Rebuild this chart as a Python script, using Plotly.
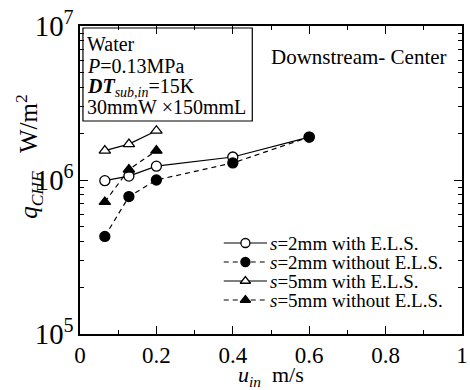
import plotly.graph_objects as go

# Inlet velocity (m/s)
u_in = [0.065, 0.128, 0.2, 0.4, 0.6]
u_in_s5 = [0.065, 0.128, 0.2]

# Critical heat flux (W/m^2)
q_s2_els = [0.99e6, 1.06e6, 1.23e6, 1.41e6, 1.90e6]
q_s2_noels = [0.43e6, 0.78e6, 1.00e6, 1.29e6, 1.90e6]
q_s5_els = [1.55e6, 1.71e6, 2.09e6]
q_s5_noels = [0.72e6, 1.17e6, 1.55e6]

names = [
    "<i>s</i>=2mm with E.L.S.",
    "<i>s</i>=2mm without E.L.S.",
    "<i>s</i>=5mm with E.L.S.",
    "<i>s</i>=5mm without E.L.S.",
]

FONT = "Liberation Serif, Times New Roman, Times, serif"
black = "black"
DASH = "5px,4px"

# plot area in pixels (left, right, top, bottom)
PL, PR, PT, PB = 80, 468, 26, 334


def px(x):
    return (x - PL) / (PR - PL)


def py(y):
    return (PB - y) / (PB - PT)


fig = go.Figure()

# (x, y, dash, symbol, fill)
series = [
    (u_in, q_s2_els, "solid", "circle", "white"),
    (u_in, q_s2_noels, DASH, "circle", black),
    (u_in_s5, q_s5_els, "solid", "triangle-up", "white"),
    (u_in_s5, q_s5_noels, DASH, "triangle-up", black),
]
for (x, y, dash, sym, fill), name in zip(series, names):
    fig.add_trace(go.Scatter(
        x=x, y=y, name=name, mode="lines+markers", showlegend=False,
        line=dict(color=black, width=1.2, dash=dash),
        marker=dict(symbol=sym, size=10, color=fill,
                    line=dict(color=black, width=1.3)),
    ))

# Compact legend: key line + marker + label per row
leg_x0, leg_x1, leg_rows = 226, 270, [243, 262, 281, 300]
key_x = [(leg_x0 + leg_x1) / 2] * len(leg_rows)
for (x, y, dash, sym, fill), name, ry in zip(series, names, leg_rows):
    fig.add_shape(
        type="line", xref="paper", yref="paper", layer="below",
        x0=px(leg_x0), x1=px(leg_x1), y0=py(ry), y1=py(ry),
        line=dict(color=black, width=1.2, dash=dash),
    )
    fig.add_annotation(
        text=name, xref="paper", yref="paper",
        x=px(leg_x1 + 1), y=py(ry), xanchor="left", yanchor="middle",
        showarrow=False, font=dict(family=FONT, size=19, color=black),
    )
fig.add_trace(go.Scatter(
    x=key_x, y=leg_rows, xaxis="x2", yaxis="y2", mode="markers",
    showlegend=False, hoverinfo="skip",
    marker=dict(symbol=[s[3] for s in series], size=9,
                color=[s[4] for s in series],
                line=dict(color=black, width=1.3)),
))

# Experimental conditions box
cond = [
    "Water",
    "<i>P</i>=0.13MPa",
    "<b><i>DT</i></b><sub><i>sub,in</i></sub>=15K",
    "30mmW ×150mmL",
]
line_y = [44, 66, 87, 107]
for txt, ty in zip(cond, line_y):
    fig.add_annotation(
        text=txt, xref="paper", yref="paper",
        x=px(85), y=py(ty),
        xanchor="left", yanchor="middle", showarrow=False,
        font=dict(family=FONT, size=20, color=black),
    )
fig.add_shape(
    type="rect", xref="paper", yref="paper",
    x0=px(83), x1=px(255), y0=py(121), y1=py(28),
    line=dict(color=black, width=1.2),
)

fig.add_annotation(
    text="Downstream- Center", xref="paper", yref="paper",
    x=px(455), y=py(57),
    xanchor="right", yanchor="middle", showarrow=False,
    font=dict(family=FONT, size=21, color=black),
)

# Axis titles
fig.add_annotation(
    text="<i>q</i><sub><i>CHF</i></sub>   W/m<sup>2</sup>",
    xref="paper", yref="paper", x=px(28), y=py(156),
    xanchor="center", yanchor="middle", textangle=-90, showarrow=False,
    font=dict(family=FONT, size=25, color=black),
)
fig.add_annotation(
    text="<i>u</i><sub><i>in</i></sub>  m/s",
    xref="paper", yref="paper", x=0.5, y=py(376),
    xanchor="center", yanchor="middle", showarrow=False,
    font=dict(family=FONT, size=22, color=black),
)

axis_common = dict(
    showline=True, linecolor=black, linewidth=1.5, mirror="allticks",
    ticks="inside", ticklen=8, tickwidth=1.2, tickcolor=black,
    showgrid=False, zeroline=False, ticklabeloverflow="allow",
    tickfont=dict(family=FONT, size=23, color=black),
)

fig.update_layout(
    xaxis=dict(
        range=[0, 1], dtick=0.2, tick0=0,
        minor=dict(ticks="inside", ticklen=4, dtick=0.1, tickcolor=black, tickwidth=1.2),
        **axis_common,
    ),
    yaxis=dict(
        type="log", range=[5, 7], dtick=1, exponentformat="power",
        minor=dict(ticks="inside", ticklen=4, dtick="D1", tickcolor=black, tickwidth=1.2),
        **axis_common,
    ),
    # pixel-space overlay used for legend key markers
    xaxis2=dict(overlaying="x", range=[PL, PR], visible=False, fixedrange=True),
    yaxis2=dict(overlaying="y", range=[PB, PT], visible=False, fixedrange=True),
    width=470, height=390,
    margin=dict(l=PL, r=470 - PR, t=PT, b=390 - PB),
    paper_bgcolor="white", plot_bgcolor="white",
    font=dict(family=FONT, color=black),
)

fig.write_html("out.html")
